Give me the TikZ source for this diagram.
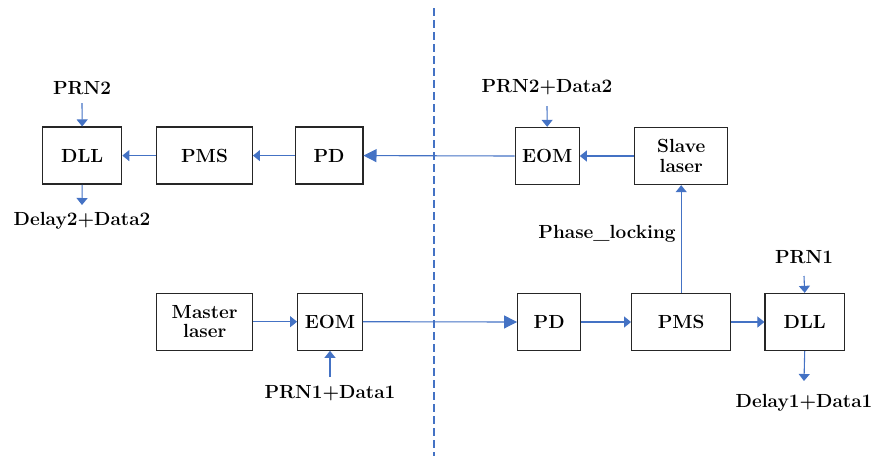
\documentclass[tikz,border=0pt]{standalone}
\usepackage{fontspec}
\usetikzlibrary{arrows.meta}
\definecolor{lineblue}{RGB}{68,114,196}
\begin{document}
\begin{tikzpicture}[x=1pt,y=-1pt,
  every node/.style={font=\fontsize{19}{21.5}\selectfont\bfseries},
  blk/.style={draw=black!85,line width=1.3pt,minimum height=57pt,inner sep=0pt,align=center,fill=white},
  conn/.style={draw=lineblue,line width=1.1pt,-{Triangle[length=7pt,width=11pt]}},
  bigconn/.style={draw=lineblue,line width=1.1pt,-{Triangle[length=13pt,width=13pt]}},
  lbl/.style={inner sep=0pt}]
\useasboundingbox (0,0) rectangle (875,456);
% divider
\draw[lineblue,line width=2pt,dash pattern=on 8pt off 4pt] (434,8) -- (434,456);
% top row
\node[blk,minimum width=79pt] (dllL) at (82.2,155.6) {DLL};
\node[blk,minimum width=95.6pt] (pmsL) at (204.5,155.6) {PMS};
\node[blk,minimum width=67.7pt] (pdL) at (329,155.6) {PD};
\node[blk,minimum width=64pt] (eomT) at (547.2,156) {EOM};
\node[blk,minimum width=93pt] (slave) at (681.2,156) {Slave\\[-2pt]laser};
% bottom row
\node[blk,minimum width=96pt] (master) at (204.7,321.7) {Master\\[-2pt]laser};
\node[blk,minimum width=64.6pt] (eomB) at (330,321.7) {EOM};
\node[blk,minimum width=63pt] (pdB) at (549.2,322) {PD};
\node[blk,minimum width=99pt] (pmsB) at (681.2,322) {PMS};
\node[blk,minimum width=79.3pt] (dllB) at (804.7,322) {DLL};
% labels
\node[lbl] (prn2) at (82,88) {PRN2};
\node[lbl] (dly2) at (82,221) {Delay2+Data2};
\node[lbl] (prn2d) at (547,87) {PRN2+Data2};
\node[lbl] (phase) at (607,234) {Phase\_locking};
\node[lbl] (prn1) at (804,257) {PRN1};
\node[lbl] (dly1) at (804,403) {Delay1+Data1};
\node[lbl] (prn1d) at (330,393) {PRN1+Data1};
% coordinates for free ends
\coordinate (a1) at (82,103);
\coordinate (a2) at (82,205);
\coordinate (a3) at (547,106);
\coordinate (a4) at (804,276);
\coordinate (a5) at (804,381);
\coordinate (a6) at (330,377);
% connectors top
\draw[conn] (pmsL) -- (dllL);
\draw[conn] (pdL) -- (pmsL);
\draw[bigconn] (eomT.west) -- (pdL.east);
\draw[conn] (slave) -- (eomT);
\draw[conn] (a1) -- (dllL.north);
\draw[conn] (dllL.south) -- (a2);
\draw[conn] (a3) -- (eomT.north);
% connectors bottom
\draw[conn] (master) -- (eomB);
\draw[bigconn] (eomB.east) -- (pdB.west);
\draw[conn] (pdB) -- (pmsB);
\draw[conn] (pmsB) -- (dllB);
\draw[conn] (a4) -- (dllB.north);
\draw[conn] (dllB.south) -- (a5);
\draw[conn] (a6) -- (eomB.south);
\draw[conn] (pmsB.north) -- (slave.south);
\end{tikzpicture}
\end{document}
